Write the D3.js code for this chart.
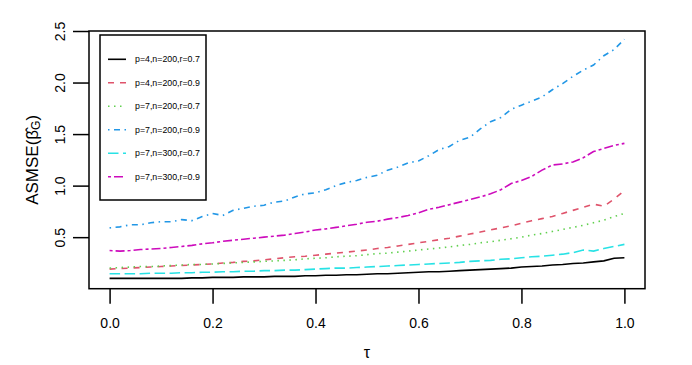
<!DOCTYPE html>
<html>
<head>
<meta charset="utf-8">
<script src="https://cdn.jsdelivr.net/npm/d3@7"></script>
<style>
  html, body { margin: 0; padding: 0; background: #fff; }
  svg { display: block; }
  text { font-family: "Liberation Sans", Arial, sans-serif; fill: #000; }
</style>
</head>
<body>
<svg id="chart" width="692" height="365"></svg>
<script>
// ---- data ----
const tau = [0,0.02,0.04,0.06,0.08,0.1,0.12,0.14,0.16,0.18,
             0.2,0.22,0.24,0.26,0.28,0.3,0.32,0.34,0.36,0.38,
             0.4,0.42,0.44,0.46,0.48,0.5,0.52,0.54,0.56,0.58,
             0.6,0.62,0.64,0.66,0.68,0.7,0.72,0.74,0.76,0.78,
             0.8,0.82,0.84,0.86,0.88,0.9,0.92,0.94,0.96,0.98,1];

const s_p4_n200_r07 = [0.10,0.10,0.10,0.10,0.10,0.10,0.10,0.10,0.105,0.105,
  0.11,0.11,0.11,0.115,0.115,0.115,0.12,0.12,0.12,0.125,
  0.125,0.13,0.13,0.135,0.135,0.14,0.145,0.145,0.15,0.155,
  0.16,0.165,0.165,0.17,0.175,0.18,0.185,0.19,0.195,0.20,
  0.21,0.215,0.22,0.23,0.235,0.245,0.25,0.26,0.27,0.295,
  0.30];
const s_p4_n200_r09 = [0.19,0.195,0.20,0.205,0.21,0.215,0.22,0.225,0.23,0.235,
  0.24,0.25,0.255,0.265,0.27,0.28,0.29,0.30,0.31,0.315,
  0.325,0.335,0.345,0.355,0.365,0.375,0.39,0.40,0.415,0.43,
  0.445,0.46,0.475,0.49,0.51,0.53,0.55,0.57,0.59,0.61,
  0.635,0.66,0.68,0.70,0.73,0.76,0.79,0.82,0.80,0.87,
  0.95];
const s_p7_n200_r07 = [0.20,0.205,0.21,0.215,0.215,0.22,0.225,0.23,0.235,0.235,
  0.24,0.245,0.25,0.255,0.26,0.265,0.27,0.275,0.28,0.29,
  0.295,0.30,0.31,0.315,0.32,0.33,0.34,0.345,0.355,0.365,
  0.375,0.385,0.395,0.405,0.42,0.43,0.445,0.455,0.47,0.485,
  0.50,0.52,0.535,0.555,0.575,0.595,0.615,0.64,0.665,0.70,
  0.73];
const s_p7_n200_r09 = [0.59,0.60,0.62,0.62,0.64,0.65,0.65,0.67,0.66,0.70,
  0.73,0.71,0.76,0.78,0.80,0.81,0.84,0.85,0.89,0.92,
  0.93,0.96,1.00,1.03,1.05,1.08,1.10,1.15,1.18,1.22,
  1.24,1.29,1.35,1.38,1.44,1.47,1.55,1.62,1.66,1.74,
  1.78,1.82,1.86,1.93,1.99,2.06,2.12,2.17,2.26,2.32,
  2.42];
const s_p7_n300_r07 = [0.145,0.145,0.145,0.145,0.15,0.15,0.15,0.155,0.155,0.16,
  0.16,0.165,0.165,0.17,0.17,0.175,0.175,0.18,0.18,0.185,
  0.19,0.195,0.20,0.20,0.205,0.21,0.215,0.22,0.225,0.23,
  0.235,0.24,0.245,0.25,0.255,0.265,0.27,0.275,0.285,0.29,
  0.30,0.31,0.315,0.325,0.335,0.35,0.375,0.365,0.39,0.41,
  0.43];
const s_p7_n300_r09 = [0.37,0.365,0.37,0.38,0.385,0.39,0.40,0.41,0.42,0.435,
  0.445,0.46,0.47,0.48,0.49,0.50,0.51,0.52,0.535,0.55,
  0.57,0.58,0.595,0.61,0.625,0.645,0.655,0.675,0.69,0.71,
  0.735,0.77,0.79,0.815,0.84,0.865,0.89,0.92,0.96,1.02,
  1.05,1.09,1.15,1.20,1.21,1.23,1.27,1.33,1.36,1.39,
  1.41];

const seriesNames = ["p=4,n=200,r=0.7","p=4,n=200,r=0.9","p=7,n=200,r=0.7",
                     "p=7,n=200,r=0.9","p=7,n=300,r=0.7","p=7,n=300,r=0.9"];
const seriesValues = [s_p4_n200_r07, s_p4_n200_r09, s_p7_n200_r07,
                      s_p7_n200_r09, s_p7_n300_r07, s_p7_n300_r09];
const xTicks = [0, 0.2, 0.4, 0.6, 0.8, 1.0];
const yTicks = [0.5, 1.0, 1.5, 2.0, 2.5];

// ---- styles ----
const colors = ["#000000","#DF536B","#61D04F","#2297E6","#28E2E5","#CD0BBC"];
const dashes = [null, "6,6", "1.5,4.5", "1.5,4.5,6,4.5", "10.5,4.5", "3,3,9,3"];

const box = {left: 89, right: 645, top: 31, bottom: 288.7};

const svg = d3.select("#chart");
svg.append("rect").attr("width",692).attr("height",365).attr("fill","#fff");

const x = d3.scaleLinear().domain([-0.04, 1.04]).range([box.left, box.right]);
const y = d3.scaleLinear().domain([0, 2.5]).range([box.bottom, box.top]);

// lines
const line = d3.line().x((d,i) => x(tau[i])).y(d => y(d));
seriesValues.forEach((vals, k) => {
  svg.append("path")
    .datum(vals)
    .attr("d", line)
    .attr("fill","none")
    .attr("stroke", colors[k])
    .attr("stroke-width", 1.6)
    .attr("stroke-dasharray", dashes[k]);
});

// plot box
svg.append("rect")
  .attr("x", box.left).attr("y", box.top)
  .attr("width", box.right - box.left).attr("height", box.bottom - box.top)
  .attr("fill","none").attr("stroke","#000").attr("stroke-width",1.5);

// x axis
const gx = svg.append("g").attr("transform", `translate(0,${box.bottom})`)
  .call(d3.axisBottom(x).tickValues(xTicks).tickFormat(d3.format(".1f"))
        .tickSize(15).tickPadding(14).tickSizeOuter(0));
gx.select(".domain").remove();
gx.selectAll(".tick line").attr("stroke","#000").attr("stroke-width",1.5);
gx.selectAll(".tick text").attr("font-size",14).attr("font-family","Liberation Sans, Arial, sans-serif");

// y axis
const gy = svg.append("g").attr("transform", `translate(${box.left},0)`)
  .call(d3.axisLeft(y).tickValues(yTicks).tickFormat(d3.format(".1f"))
        .tickSize(16).tickSizeOuter(0));
gy.select(".domain").remove();
gy.selectAll(".tick line").attr("stroke","#000").attr("stroke-width",1.5);
gy.selectAll(".tick text")
  .attr("x", null).attr("dy", "0.35em")
  .attr("text-anchor","middle")
  .attr("transform", `translate(${60 - box.left},0) rotate(-90)`)
  .attr("font-size",14).attr("font-family","Liberation Sans, Arial, sans-serif");

// axis titles
svg.append("text").attr("x", (box.left + box.right)/2).attr("y", 358)
  .attr("text-anchor","middle").attr("font-size",16).text("τ");

const yt = svg.append("text")
  .attr("transform", `translate(38,${(box.top+box.bottom)/2}) rotate(-90)`)
  .attr("text-anchor","middle").attr("font-size",17);
yt.append("tspan").text("ASMSE(β\u0302");
yt.append("tspan").attr("font-size",12).attr("dy", 2).text("G");
yt.append("tspan").attr("dy", -2).text(")");

// legend
const leg = svg.append("g");
leg.append("rect").attr("x",100).attr("y",35).attr("width",106).attr("height",165)
  .attr("fill","#fff").attr("stroke","#000").attr("stroke-width",1.5);
seriesNames.forEach((name, k) => {
  const ly = 59.3 + 23.5 * k;
  leg.append("line").attr("x1",108).attr("x2",126).attr("y1",ly).attr("y2",ly)
    .attr("stroke", colors[k]).attr("stroke-width",1.6)
    .attr("stroke-dasharray", dashes[k]);
  leg.append("text").attr("x",135).attr("y",ly).attr("dy","0.35em")
    .attr("font-size",8.8).text(name);
});
</script>
</body>
</html>
